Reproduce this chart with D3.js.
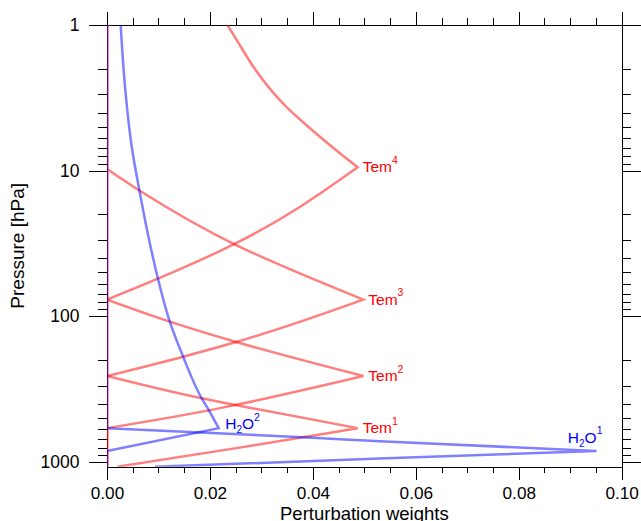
<!DOCTYPE html>
<html><head><meta charset="utf-8">
<script src="https://cdn.jsdelivr.net/npm/d3@7"></script>
<style>
html,body{margin:0;padding:0;background:#fff;}
svg{display:block;font-family:"Liberation Sans",Arial,Helvetica,sans-serif;}
</style></head><body>
<svg id="chart" width="641" height="521"></svg>
<script>
// ---- data (weight, pressure in hPa) ----
const xTickValues = [0, 0.02, 0.04, 0.06, 0.08, 0.10];
const xTickLabels = ["0.00", "0.02", "0.04", "0.06", "0.08", "0.10"];
const yTickValues = [1, 10, 100, 1000];
const yTickLabels = ["1", "10", "100", "1000"];

const tem4 = [[0.0234, 1], [0.0260, 1.41], [0.0284, 1.93], [0.0313, 2.65], [0.0348, 3.64],
              [0.0391, 5.0], [0.0437, 6.86], [0.0487, 9.5],
              [0.0247, 32.0], [0.0099, 55.3], [0, 77], [0, 1082]];
const tem3 = [[0, 1], [0, 9.75], [0.0063, 13.7], [0.0247, 32.0], [0.0498, 77],
              [0.0251, 150.5], [0.0148, 190], [0, 258], [0, 1082]];
const tem2 = [[0, 1], [0, 77], [0.0122, 109], [0.0251, 150.5], [0.0498, 258],
              [0.0249, 408], [0.0198, 444], [0, 588], [0, 1082]];
const tem1 = [[0, 1], [0, 258], [0.0184, 367], [0.0249, 408], [0.0487, 588],
              [0.0381, 679], [0.0245, 813], [0.0020, 1082]];
const h2o2 = [[0.00266, 1], [0.0035, 2.65], [0.0049, 7.22], [0.0063, 13.7], [0.0074, 21.9],
              [0.0099, 55.3], [0.0122, 109], [0.0148, 190], [0.0184, 367], [0.0198, 444],
              [0.0217, 588], [0, 844], [0, 1082]];
const h2o1 = [[0, 1], [0, 588], [0.0381, 679], [0.0530, 724], [0.0951, 844],
              [0.0530, 952], [0.0093, 1082]];

const temSeries = [tem1, tem2, tem3, tem4];
const temSup = ["1", "2", "3", "4"];
const h2oSeries = [h2o1, h2o2];
const h2oSup = ["1", "2"];

// ---- layout ----
const P = {left: 107, top: 25, right: 621.7, bottom: 466.7};
const svg = d3.select("#chart");
const x = d3.scaleLinear().domain([0, 0.1]).range([P.left, P.right]);
const y = d3.scaleLog().domain([1, 1082]).range([P.top, P.bottom]);

const xMinor = d3.range(1, 20).map(i => i * 0.005)
  .filter(v => Math.abs(v / 0.02 - Math.round(v / 0.02)) > 1e-6);
const yMinor = [1, 10, 100].flatMap(d => d3.range(2, 10).map(k => k * d));

svg.append("defs").append("clipPath").attr("id", "clip")
  .append("rect").attr("x", P.left).attr("y", P.top)
  .attr("width", P.right - P.left).attr("height", P.bottom - P.top);

function styleAxis(g, size) {
  g.select(".domain").remove();
  g.selectAll("line").attr("stroke", "#000").attr("shape-rendering", "crispEdges");
  g.attr("font-family", "'Liberation Sans', Arial, Helvetica, sans-serif").attr("font-size", size || 17.5);
  g.selectAll("text").attr("fill", "#000");
}

// bottom
svg.append("g").attr("transform", `translate(0,${P.bottom})`)
  .call(d3.axisBottom(x).tickValues(xTickValues).tickFormat((d, i) => xTickLabels[i]).tickSize(13.5).tickPadding(6.5))
  .call(g => styleAxis(g, 17.2));
svg.append("g").attr("transform", `translate(0,${P.bottom})`)
  .call(d3.axisBottom(x).tickValues(xMinor).tickFormat("").tickSize(6.7)).call(styleAxis);
// top
svg.append("g").attr("transform", `translate(0,${P.top})`)
  .call(d3.axisTop(x).tickValues(xTickValues).tickFormat("").tickSize(13)).call(styleAxis);
svg.append("g").attr("transform", `translate(0,${P.top})`)
  .call(d3.axisTop(x).tickValues(xMinor).tickFormat("").tickSize(6.7)).call(styleAxis);
// left
svg.append("g").attr("transform", `translate(${P.left},0)`)
  .call(d3.axisLeft(y).tickValues(yTickValues).tickFormat((d, i) => yTickLabels[i]).tickSize(18.5).tickPadding(9))
  .call(styleAxis);
svg.append("g").attr("transform", `translate(${P.left},0)`)
  .call(d3.axisLeft(y).tickValues(yMinor).tickFormat("").tickSize(9.3)).call(styleAxis);
// right
svg.append("g").attr("transform", `translate(${P.right},0)`)
  .call(d3.axisRight(y).tickValues(yTickValues).tickFormat("").tickSize(20)).call(styleAxis);
svg.append("g").attr("transform", `translate(${P.right},0)`)
  .call(d3.axisRight(y).tickValues(yMinor).tickFormat("").tickSize(9.3)).call(styleAxis);

// frame
svg.append("rect").attr("x", P.left + 0.5).attr("y", P.top + 0.5)
  .attr("width", P.right - P.left).attr("height", P.bottom - P.top)
  .attr("fill", "none").attr("stroke", "#000").attr("stroke-width", 1)
  .attr("shape-rendering", "crispEdges");

// ---- lines ----
const line = d3.line().x(d => x(d[0])).y(d => y(d[1])).curve(d3.curveMonotoneY);
function pathD(data) {
  const peak = d3.maxIndex(data, d => d[0]);
  const br = new Set([0, data.length - 1, peak]);
  data.forEach((d, i) => {
    if (d[0] === 0 && ((i > 0 && data[i - 1][0] !== 0) || (i < data.length - 1 && data[i + 1][0] !== 0))) br.add(i);
  });
  const idx = [...br].sort((a, b) => a - b);
  let s = "";
  for (let k = 0; k < idx.length - 1; k++) {
    const part = line(data.slice(idx[k], idx[k + 1] + 1));
    s += k === 0 ? part : part.replace(/^M[^A-Za-z]*/, "");
  }
  return s;
}

const plot = svg.append("g").attr("clip-path", "url(#clip)");
temSeries.forEach(s => plot.append("path").attr("d", pathD(s))
  .attr("fill", "none").attr("stroke", "#ff0000").attr("stroke-opacity", 0.5).attr("stroke-width", 2.5));
h2oSeries.forEach(s => plot.append("path").attr("d", pathD(s))
  .attr("fill", "none").attr("stroke", "#0000ff").attr("stroke-opacity", 0.5).attr("stroke-width", 2.5));

// ---- labels ----
const peakOf = s => s[d3.maxIndex(s, d => d[0])];
temSeries.forEach((s, i) => {
  const pk = peakOf(s);
  const t = svg.append("text").attr("x", x(pk[0]) + 5).attr("y", y(pk[1]) + 5)
    .attr("fill", "#ff0000").attr("font-size", 15.5).text("Tem");
  t.append("tspan").attr("dy", -8.5).attr("font-size", 10.5).text(temSup[i]);
});
h2oSeries.forEach((s, i) => {
  const pk = peakOf(s);
  const t = svg.append("text").attr("fill", "#0000ff").attr("font-size", 15.5);
  if (i === 0) t.attr("x", x(pk[0]) + 6).attr("y", y(pk[1]) - 8.3).attr("text-anchor", "end");
  else t.attr("x", x(pk[0]) + 6.5).attr("y", y(pk[1]) + 1);
  t.append("tspan").text("H");
  t.append("tspan").attr("dy", 4).attr("font-size", 10).text("2");
  t.append("tspan").attr("dy", -4).text("O");
  t.append("tspan").attr("dy", -8.5).attr("font-size", 10.5).text(h2oSup[i]);
});

// ---- axis titles ----
svg.append("text").attr("x", (P.left + P.right) / 2).attr("y", 519.5)
  .attr("text-anchor", "middle").attr("font-size", 18.5).attr("fill", "#000").text("Perturbation weights");
svg.append("text").attr("transform", `translate(23.5,${(P.top + P.bottom) / 2}) rotate(-90)`)
  .attr("text-anchor", "middle").attr("font-size", 19).attr("fill", "#000").text("Pressure [hPa]");
</script>
</body></html>
